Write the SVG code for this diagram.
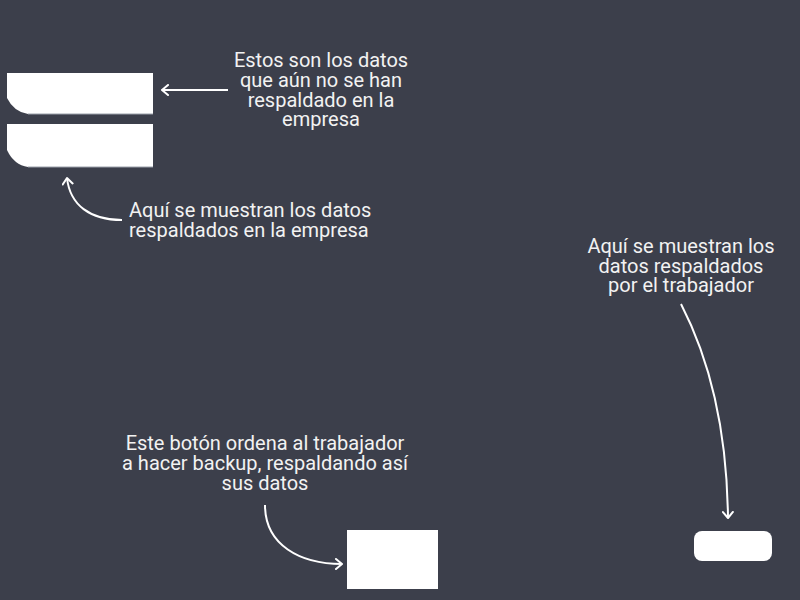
<svg xmlns="http://www.w3.org/2000/svg" width="800" height="600" viewBox="0 0 800 600">
<defs>
<marker id="ah" viewBox="0 0 12 12" refX="9" refY="6" markerWidth="12" markerHeight="12" markerUnits="userSpaceOnUse" orient="auto">
<path d="M3,1 L9,6 L3,11" fill="none" stroke="#ffffff" stroke-width="2" stroke-linecap="round" stroke-linejoin="round"/>
</marker>
<style>
.t{font-family:Roboto,"Liberation Sans",sans-serif;font-size:20px;fill:#f2f2f2}
.c{text-anchor:middle}
.a{fill:none;stroke:#ffffff;stroke-width:2;marker-end:url(#ah)}
.n{fill:#ffffff}
</style>
</defs>
<rect width="800" height="600" fill="#3c3f4b"/>
<g id="pending">
<path class="n" d="M7,73 H153 V114 H28 Q14,112 7,98 Z"/>
<line x1="28" y1="114" x2="153" y2="114" stroke="#9aa0aa" stroke-width="1"/>
</g>
<g id="company">
<path class="n" d="M7,124 H153 V167 H28 Q14,165 7,150 Z"/>
<line x1="28" y1="167" x2="153" y2="167" stroke="#9aa0aa" stroke-width="1"/>
</g>
<g id="button">
<rect class="n" x="347" y="530" width="91" height="59"/>
</g>
<g id="worker">
<rect class="n" x="694" y="531" width="78" height="30" rx="8"/>
</g>
<g id="connectors">
<path class="a" d="M228,90 H162"/>
<path class="a" d="M122,220 C90,220 70,205 67,178"/>
<path class="a" d="M265,505 C265,545 300,564 342,564"/>
<path class="a" d="M681,304 C710,360 727,430 728,518"/>
</g>
<g id="labels">
<text class="t c" x="321"><tspan x="321" y="67">Estos son los datos</tspan><tspan x="321" y="87">que aún no se han</tspan><tspan x="321" y="107">respaldado en la</tspan><tspan x="321" y="126">empresa</tspan></text>
<text class="t" x="129"><tspan x="129" y="217">Aquí se muestran los datos</tspan><tspan x="129" y="237">respaldados en la empresa</tspan></text>
<text class="t c" x="265"><tspan x="265" y="450">Este botón ordena al trabajador</tspan><tspan x="265" y="470">a hacer backup, respaldando así</tspan><tspan x="265" y="490">sus datos</tspan></text>
<text class="t c" x="681"><tspan x="681" y="253">Aquí se muestran los</tspan><tspan x="681" y="273">datos respaldados</tspan><tspan x="681" y="292">por el trabajador</tspan></text>
</g>
</svg>
